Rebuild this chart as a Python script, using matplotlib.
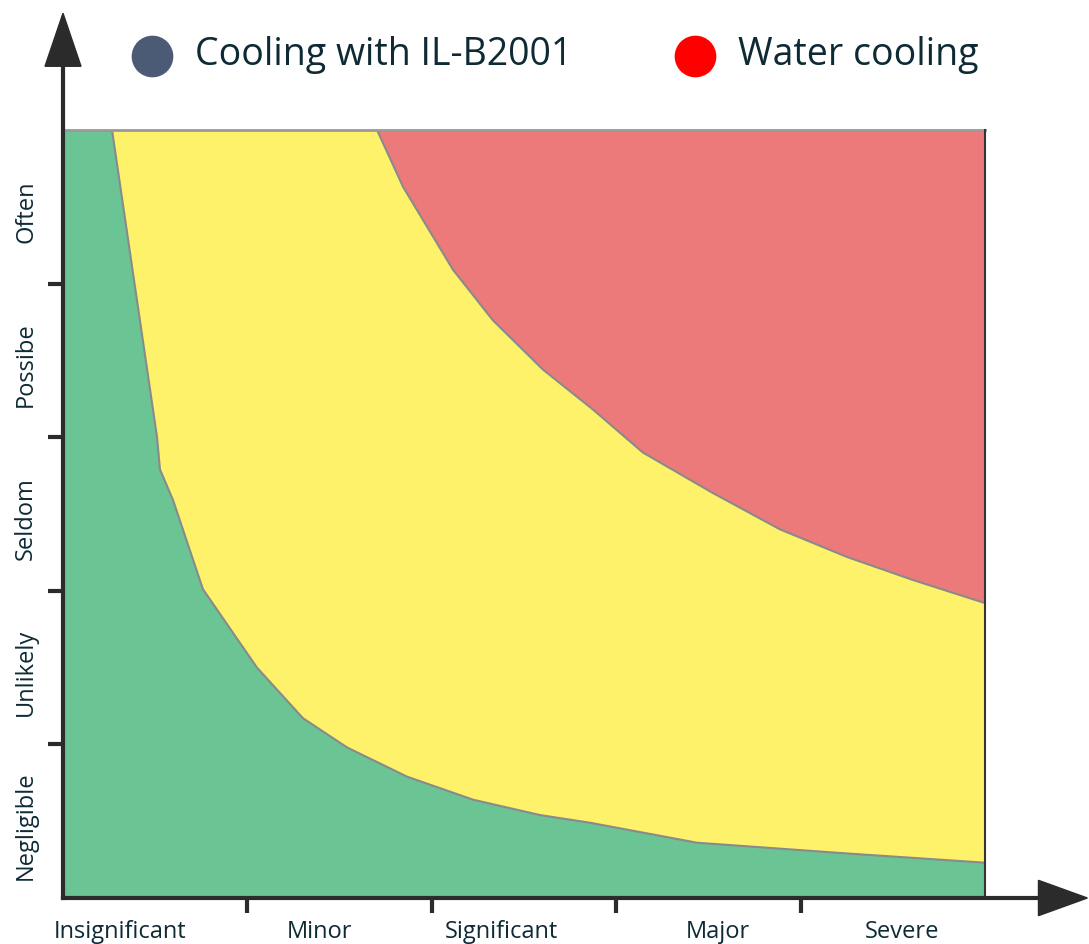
import matplotlib.pyplot as plt
import numpy as np

plt.rcParams['font.family'] = ['Open Sans', 'DejaVu Sans']

# risk-matrix categories
impact = ['Insignificant', 'Minor', 'Significant', 'Major', 'Severe']
likelihood = ['Negligible', 'Unlikely', 'Seldom', 'Possibe', 'Often']

# boundary green / yellow (x = impact, y = likelihood)
low_x = [0.266, 0.51, 0.526, 0.597, 0.759, 1.052, 1.302, 1.541, 1.866, 2.224, 2.587, 2.858, 3.438, 4.252, 5.0]
low_y = [5.0, 3.0, 2.79, 2.59, 2.01, 1.5, 1.17, 0.98, 0.79, 0.64, 0.54, 0.49, 0.36, 0.29, 0.23]

# boundary yellow / red
high_x = [1.703, 1.844, 2.115, 2.332, 2.603, 2.874, 3.145, 3.519, 3.888, 4.252, 4.61, 5.0]
high_y = [5.0, 4.63, 4.09, 3.76, 3.44, 3.18, 2.9, 2.64, 2.4, 2.22, 2.07, 1.92]

legend_names = ['Cooling with IL-B2001', 'Water cooling']
legend_colors = ['#4b5b75', '#ff0000']

green = '#6bc493'
yellow = '#fff26b'
red = '#ec7a7b'
dark = '#2b2b2b'
txt = '#0d2a35'

fig = plt.figure(figsize=(10.89, 9.44), dpi=100)
ax = fig.add_axes([63/1089, 46/944, 922/1089, 768/944])
ax.set_xlim(0, 5)
ax.set_ylim(0, 5)

# background green, yellow above low boundary, red above high boundary
ax.fill_between([0, 5], 0, 5, color=green, lw=0)
lx = np.array(low_x)
ax.fill(np.concatenate([lx, [5, 5]]), np.concatenate([low_y, [5, 5]]),
        color=yellow, lw=0)
hx = np.array(high_x)
ax.fill(np.concatenate([hx, [5]]), np.concatenate([high_y, [5]]),
        color=red, lw=0)
ax.plot(low_x, low_y, color='#8a8a8a', lw=1.5)
ax.plot(high_x, high_y, color='#8a8a8a', lw=1.5)

for s in ['top', 'right', 'left', 'bottom']:
    ax.spines[s].set_visible(False)
ax.plot([0, 5], [5, 5], color='#9a9a9a', lw=2, clip_on=False)
ax.plot([5, 5], [0, 5], color='#333333', lw=1.5, clip_on=False)

# axis arrows
ax.plot([0, 0], [0, 1.09], color=dark, lw=3, transform=ax.transAxes, clip_on=False)
ax.plot([0, 1.065], [0, 0], color=dark, lw=3, transform=ax.transAxes, clip_on=False)
ax.add_patch(plt.Polygon([[-0.0195, 1.083], [0.0195, 1.083], [0, 1.152]],
                         closed=True, color=dark, transform=ax.transAxes, clip_on=False))
ax.add_patch(plt.Polygon([[1.058, 0.023], [1.058, -0.023], [1.111, 0]],
                         closed=True, color=dark, transform=ax.transAxes, clip_on=False))

# ticks between categories, labels centred in bands
ax.set_xticks([1, 2, 3, 4])
ax.set_yticks([1, 2, 3, 4])
ax.set_xticklabels([])
ax.set_yticklabels([])
ax.tick_params(axis='both', direction='out', length=11, width=3, color=dark)

x_pos = [0.31, 1.39, 2.38, 3.55, 4.55]
for p, name in zip(x_pos, impact):
    ax.text(p, -0.22, name, ha='center', va='center', fontsize=17, color=txt)
for i, name in enumerate(likelihood):
    ax.text(-0.2, i + 0.47, name, ha='center', va='center', rotation=90,
            fontsize=17, color=txt)

# legend on top
leg_x = [152, 695]
for lxp, name, c in zip(leg_x, legend_names, legend_colors):
    fig.lines.append(plt.Line2D([lxp/1089], [1 - 56/944], marker='o', markersize=29,
                                color=c, transform=fig.transFigure))
    fig.text((lxp + 43)/1089, 1 - 55/944, name, ha='left', va='center',
             fontsize=27, color=txt)

fig.savefig('out.png', dpi=100)
